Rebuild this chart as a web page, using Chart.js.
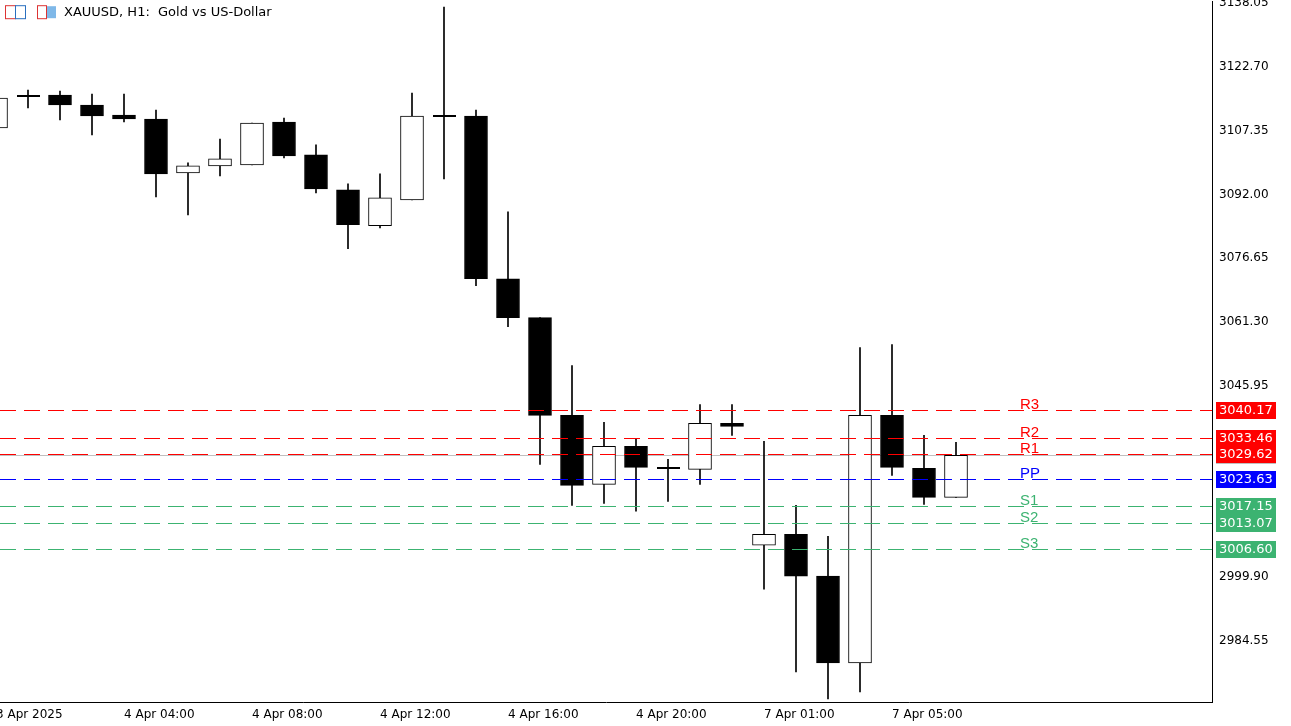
<!DOCTYPE html>
<html><head><meta charset="utf-8">
<script src="https://cdn.jsdelivr.net/npm/chart.js@4.4.1/dist/chart.umd.min.js"></script>
<style>html,body{margin:0;padding:0;background:#fff;overflow:hidden}#o{width:1291px;height:726px;position:relative;overflow:hidden}#w{width:1296px;height:735px;position:absolute;left:-5px;top:-9px}</style>
</head><body><div id="o"><div id="w"><canvas id="c"></canvas></div></div>
<script>
const opens  = [3108.02,3115.71,3115.95,3113.55,3111.15,3110.19,3097.21,3098.90,3099.14,3109.47,3101.54,3093.13,3084.49,3090.73,3110.91,3110.91,3071.75,3062.39,3038.85,3022.27,3031.40,3026.12,3025.88,3036.93,3007.62,3010.26,3000.18,2979.28,3038.85,3026.12,3019.15];
const closes = [3115.23,3115.71,3113.55,3110.91,3110.19,3096.98,3098.90,3100.58,3109.23,3101.30,3093.37,3084.73,3091.21,3110.91,3110.91,3071.75,3062.39,3038.85,3022.03,3031.40,3026.36,3026.12,3036.93,3036.21,3010.26,3000.18,2979.28,3038.85,3026.36,3019.15,3029.24];
const highs  = [3116.50,3117.15,3116.91,3116.19,3116.19,3112.35,3099.62,3105.38,3109.23,3110.43,3103.94,3094.57,3096.98,3116.43,3137.09,3112.35,3087.85,3062.39,3050.86,3037.17,3033.32,3028.28,3041.49,3041.49,3032.60,3017.23,3009.78,3055.18,3055.90,3034.05,3032.36];
const lows   = [3107.50,3112.83,3109.95,3106.34,3109.47,3091.45,3087.13,3096.50,3099.14,3100.82,3092.41,3078.96,3084.00,3090.73,3095.77,3070.07,3060.22,3027.08,3017.23,3017.71,3015.79,3018.19,3022.27,3034.05,2997.05,2977.11,2970.63,2972.31,3024.44,3017.47,3019.15];
const timeTicks = [0,4,8,12,16,20,24,28];
const timeLabels = ["3 Apr 2025","4 Apr 04:00","4 Apr 08:00","4 Apr 12:00","4 Apr 16:00","4 Apr 20:00","7 Apr 01:00","7 Apr 05:00"];
const priceTicks = [3138.05,3122.70,3107.35,3092.00,3076.65,3061.30,3045.95,3030.60,3015.25,2999.90,2984.55];
const pivotNames = ["R3","R2","R1","PP","S1","S2","S3"];
const pivotValues = [3040.17,3033.46,3029.62,3023.63,3017.15,3013.07,3006.60];
const pivotColors = ["#ff0000","#ff0000","#ff0000","#0000ff","#3cb371","#3cb371","#3cb371"];

const XMIN=0.125, XMAX=38, YMIN=2969.9, YMAX=3138.53;
const idx = opens.map((_,i)=>i);
const wickData = idx.map(i=>({x:i,y:[lows[i],highs[i]]}));
const bodyData = idx.map(i=>({x:i,y:[opens[i],closes[i]]}));
const bodyFill = idx.map(i=>closes[i]>opens[i]?'#ffffff':'#000000');
const bid = closes[closes.length-1];

const underlay = {
  id:'underlay',
  beforeDatasetsDraw(chart){
    const ctx=chart.ctx, y=chart.scales.y, ca=chart.chartArea;
    ctx.save();
    ctx.lineWidth=1;
    const bp=Math.round(y.getPixelForValue(bid))+0.5;
    ctx.strokeStyle='#c0c0c0'; ctx.beginPath(); ctx.moveTo(ca.left,bp); ctx.lineTo(ca.right,bp); ctx.stroke();
    ctx.restore();
  },
  afterDatasetsDraw(chart){
    const ctx=chart.ctx, y=chart.scales.y, ca=chart.chartArea;
    ctx.save();
    idx.forEach(i=>{ if(Math.abs(opens[i]-closes[i])<0.3){
      const px=Math.round(chart.scales.x.getPixelForValue(i)), py=Math.round(y.getPixelForValue(opens[i]));
      ctx.fillStyle='#000'; ctx.fillRect(px-11,py-1,23,2);
    }});
    ctx.lineWidth=1; ctx.setLineDash([16,8]);
    pivotValues.forEach((v,k)=>{
      const py=Math.round(y.getPixelForValue(v))+0.5;
      ctx.strokeStyle=pivotColors[k];
      ctx.beginPath(); ctx.moveTo(ca.left,py); ctx.lineTo(ca.right,py); ctx.stroke();
    });
    ctx.setLineDash([]);
    ctx.font='15px "Liberation Sans", Arial';
    ctx.textBaseline='alphabetic'; ctx.textAlign='left';
    pivotValues.forEach((v,k)=>{
      const py=y.getPixelForValue(v);
      ctx.fillStyle=pivotColors[k];
      ctx.fillText(pivotNames[k],ca.left+1020,py-1);
    });
    ctx.font='13px "DejaVu Sans"';
    ctx.textBaseline='middle';
    const bp=y.getPixelForValue(bid);
    ctx.fillStyle='#c0c0c0'; ctx.fillRect(ca.right+4,Math.round(bp)-8,60,17);
    pivotValues.forEach((v,k)=>{
      const py=Math.round(y.getPixelForValue(v));
      ctx.fillStyle=pivotColors[k];
      ctx.fillRect(ca.right+4,py-8,60,17);
      ctx.fillStyle='#fff';
      ctx.fillText(v.toFixed(2),ca.right+7,py+1);
    });
    const L=ca.left, T=ca.top;
    ctx.lineWidth=1;
    ctx.strokeStyle='#d33'; ctx.strokeRect(L+5.5,T+4.5,10,13); ctx.strokeStyle='#2a6fbf'; ctx.strokeRect(L+15.5,T+4.5,10,13);
    ctx.strokeStyle='#d33'; ctx.strokeRect(L+37.5,T+4.5,9,13); ctx.fillStyle='#7fb8e8'; ctx.fillRect(L+47,T+5,9,12);
    ctx.fillStyle='#000'; ctx.textBaseline='middle';
    ctx.fillText('XAUUSD, H1:  Gold vs US-Dollar',L+64,T+11);
    ctx.restore();
  }
};

new Chart(document.getElementById('c'),{
  type:'bar',
  data:{datasets:[
    {data:wickData,backgroundColor:'#000',barThickness:1,grouped:false,order:2},
    {data:bodyData,backgroundColor:bodyFill,borderColor:'#000',borderWidth:1,borderSkipped:false,barThickness:23,grouped:false,order:1}
  ]},
  options:{
    responsive:true,maintainAspectRatio:false,animation:false,
    layout:{padding:0},
    plugins:{legend:{display:false},tooltip:{enabled:false}},
    scales:{
      x:{type:'linear',min:XMIN,max:XMAX,offset:false,
        grid:{display:false,drawTicks:true,tickLength:5,tickColor:'#000'},
        border:{color:'#000',width:1},
        afterBuildTicks(s){s.ticks=timeTicks.map(v=>({value:v}));},
        afterFit(s){s.height=24;},
        ticks:{autoSkip:false,maxRotation:0,align:'start',color:'#000',padding:1,font:{family:'DejaVu Sans',size:12},
          callback:(v)=>{const k=timeTicks.indexOf(v);return k>=0?timeLabels[k]:'';}}},
      y:{position:'right',min:YMIN,max:YMAX,
        grid:{display:false,drawTicks:true,tickLength:4,tickColor:'#000'},
        border:{color:'#000',width:1},
        afterBuildTicks(s){s.ticks=priceTicks.map(v=>({value:v}));},
        afterFit(s){s.width=79;},
        ticks:{autoSkip:false,color:'#000',padding:3,font:{family:'DejaVu Sans',size:12},callback:v=>v.toFixed(2)}}
    }
  },
  plugins:[underlay]
});
</script></body></html>
